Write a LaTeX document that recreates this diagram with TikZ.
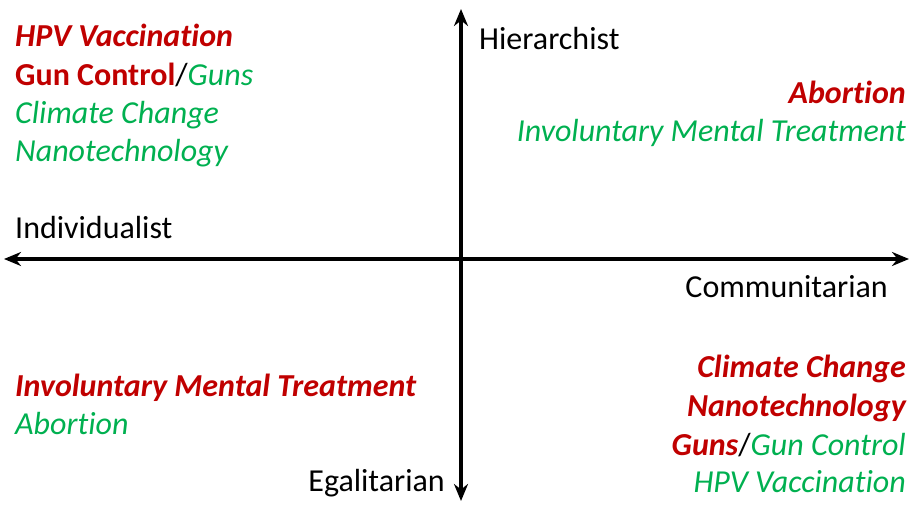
\documentclass[tikz,border=0pt]{standalone}
\usepackage{fontspec}
\setmainfont[Ligatures={NoCommon}]{Carlito}
\usetikzlibrary{arrows.meta,positioning}

\definecolor{riskred}{HTML}{C00000}
\definecolor{riskgreen}{HTML}{00B050}
\newcommand{\qfont}{\fontsize{32}{38}\selectfont}
\tikzset{
  axis/.style={line width=3.6pt, {Stealth[length=17pt,width=14pt]}-{Stealth[length=17pt,width=14pt]}},
  axislabel/.style={font=\qfont, text=black, inner sep=0pt},
  concern/.style={font=\qfont\bfseries\itshape, text=riskred, inner sep=0pt},
  relief/.style={font=\qfont\itshape, text=riskgreen, inner sep=0pt}
}

\begin{document}
\begin{tikzpicture}[x=1pt,y=1pt]
  \useasboundingbox (0,0) rectangle (910,506);
  % axes
  \coordinate (north) at (461,497);
  \coordinate (south) at (461,5);
  \coordinate (west) at (4,247);
  \coordinate (east) at (909,247);
  \draw[axis] (south) -- (north);
  \draw[axis] (west) -- (east);
  % axis labels
  \node[axislabel, anchor=base west] (hier) at (479,456) {Hierarchist};
  \node[axislabel, anchor=base west] (indiv) at (15,267) {Individualist};
  \node[axislabel, anchor=base east] (comm) at (888,208) {Communitarian};
  \node[axislabel, anchor=base east] (egal) at (445,15) {Egalitarian};
  % hierarchist individualist
  \node[concern, anchor=base west] (hi1) at (15,459) {HPV Vaccination};
  \node[axislabel, anchor=base west] (hi2) at (15,420)
    {{\color{riskred}\bfseries Gun Control}/{\color{riskgreen}\itshape Guns}};
  \node[relief, anchor=base west] (hi3) at (15,382) {Climate Change};
  \node[relief, anchor=base west] (hi4) at (15,344) {Nanotechnology};
  % hierarchist communitarian
  \node[concern, anchor=base east] (hc1) at (906,402) {Abortion};
  \node[relief, anchor=base east] (hc2) at (906,364) {Involuntary Mental Treatment};
  % egalitarian individualist
  \node[concern, anchor=base west] (ei1) at (15,109) {Involuntary Mental Treatment};
  \node[relief, anchor=base west] (ei2) at (15,71) {Abortion};
  % egalitarian communitarian
  \node[concern, anchor=base east] (ec1) at (906,128) {Climate Change};
  \node[concern, anchor=base east] (ec2) at (906,89) {Nanotechnology};
  \node[axislabel, anchor=base east] (ec3) at (906,51)
    {{\color{riskred}\bfseries\itshape Guns}/{\color{riskgreen}\itshape Gun Control}};
  \node[relief, anchor=base east] (ec4) at (906,13) {HPV Vaccination};
\end{tikzpicture}
\end{document}
